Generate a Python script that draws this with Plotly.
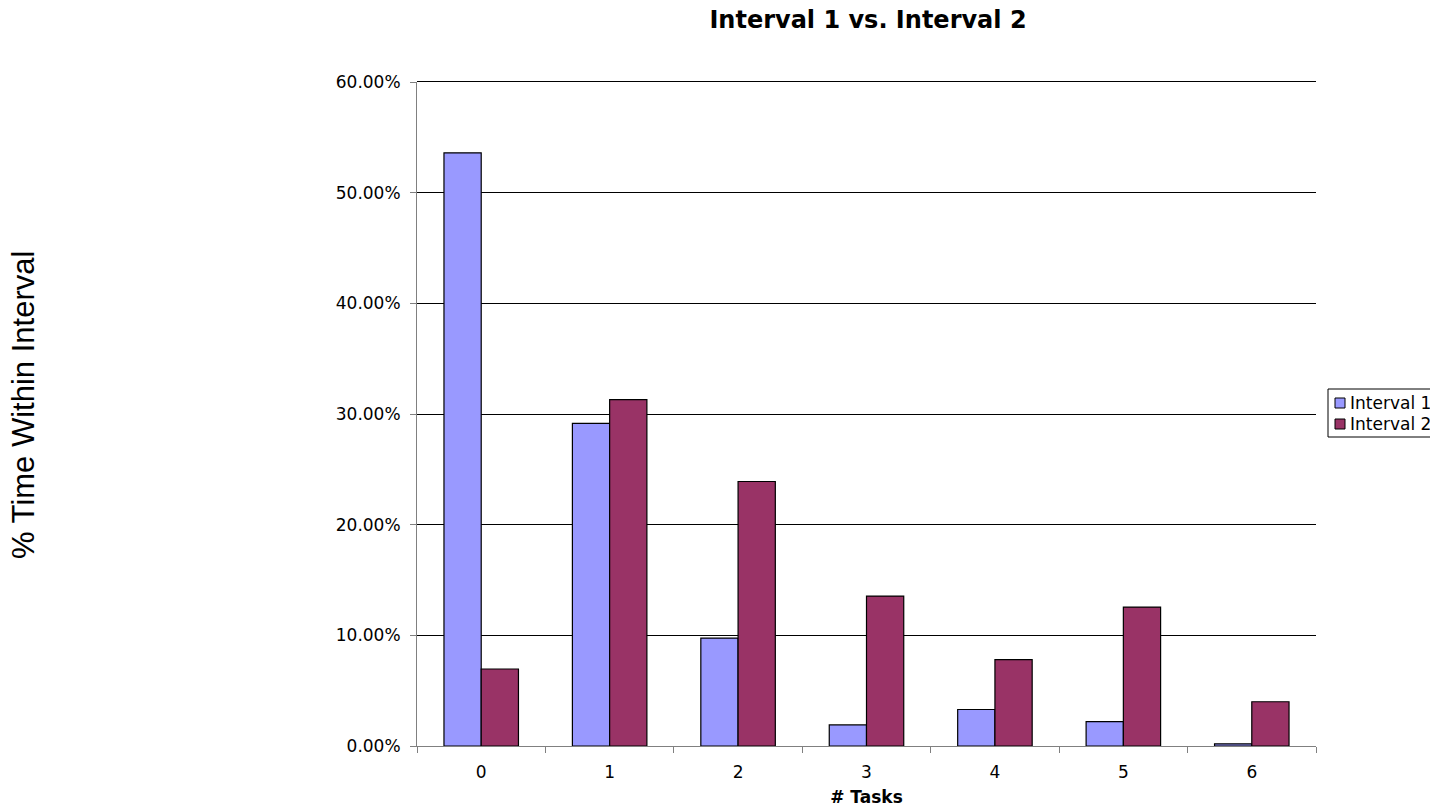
import plotly.graph_objects as go

# Share of time spent at each task count, per interval
tasks = ["0", "1", "2", "3", "4", "5", "6"]
interval_1 = [0.536, 0.2915, 0.0975, 0.019, 0.033, 0.022, 0.002]
interval_2 = [0.0696, 0.313, 0.239, 0.1355, 0.078, 0.1255, 0.040]
series_names = ["Interval 1", "Interval 2"]
series_colors = ["#9999FF", "#993366"]

FONT = "DejaVu Sans, Verdana, sans-serif"
W, H = 1430, 808
L, R, T, B = 417, 114, 82, 62
PW, PH = W - L - R, H - T - B


def px_x(x):
    """Pixel column -> paper x."""
    return (x - L) / PW


def px_y(y):
    """Pixel row (from top) -> paper y."""
    return (H - B - y) / PH


fig = go.Figure()
for name, vals, col in zip(series_names, [interval_1, interval_2], series_colors):
    fig.add_trace(go.Bar(
        x=tasks, y=vals, name=name,
        marker=dict(color=col, line=dict(color="black", width=1.2)),
    ))

fig.update_layout(
    width=W, height=H,
    margin=dict(l=L, r=R, t=T, b=B, autoexpand=False),
    paper_bgcolor="white", plot_bgcolor="white",
    barmode="group", bargap=0.42, bargroupgap=0,
    font=dict(family=FONT, size=17, color="black"),
    showlegend=False,
    title=dict(
        text="<b>Interval 1 vs. Interval 2</b>",
        x=868 / W, xanchor="center",
        y=1 - 20 / H, yanchor="middle",
        font=dict(family=FONT, size=24, color="black"),
    ),
)

fig.update_xaxes(
    type="category", showline=True, linecolor="#808080", linewidth=1,
    ticks="outside", tickson="boundaries", ticklen=6, tickcolor="#808080",
    showgrid=False, tickfont=dict(family=FONT, size=17), ticklabelstandoff=11,
    title=dict(text="<b># Tasks</b>", font=dict(family=FONT, size=17), standoff=9),
)
fig.update_yaxes(
    range=[0, 0.6], dtick=0.1, tickformat=".2%",
    showline=True, linecolor="#808080", linewidth=1,
    ticks="outside", ticklen=6, tickcolor="#808080",
    showgrid=True, gridcolor="black", gridwidth=1,
    tickfont=dict(family=FONT, size=17), ticklabelstandoff=6, zeroline=False,
)

# gridline at the top of the value axis (plotly omits the one on the edge)
fig.add_shape(type="line", xref="paper", yref="paper", x0=0, x1=1,
              y0=px_y(81.5), y1=px_y(81.5),
              line=dict(color="black", width=1), layer="below")

# y-axis caption set well to the left of the tick labels
fig.add_annotation(
    text="% Time Within Interval", textangle=-90,
    xref="paper", yref="paper", x=px_x(23), y=px_y(405),
    xanchor="center", yanchor="middle", showarrow=False,
    font=dict(family="Liberation Sans, Arial, sans-serif", size=31, color="black"),
)

# legend box with a square swatch per series
fig.add_shape(type="rect", xref="paper", yref="paper",
              x0=px_x(1328), x1=px_x(1445), y0=px_y(437), y1=px_y(389),
              line=dict(color="black", width=1), fillcolor="white")
for i, (name, col) in enumerate(zip(series_names, series_colors)):
    cy = 403 + 21 * i
    fig.add_shape(type="rect", xref="paper", yref="paper",
                  x0=px_x(1335), x1=px_x(1345), y0=px_y(cy + 5), y1=px_y(cy - 5),
                  line=dict(color="black", width=1), fillcolor=col)
    fig.add_annotation(text=name, xref="paper", yref="paper",
                       x=px_x(1348), y=px_y(cy), xanchor="left", yanchor="middle",
                       showarrow=False, font=dict(family=FONT, size=17))

fig.write_html("out.html")
